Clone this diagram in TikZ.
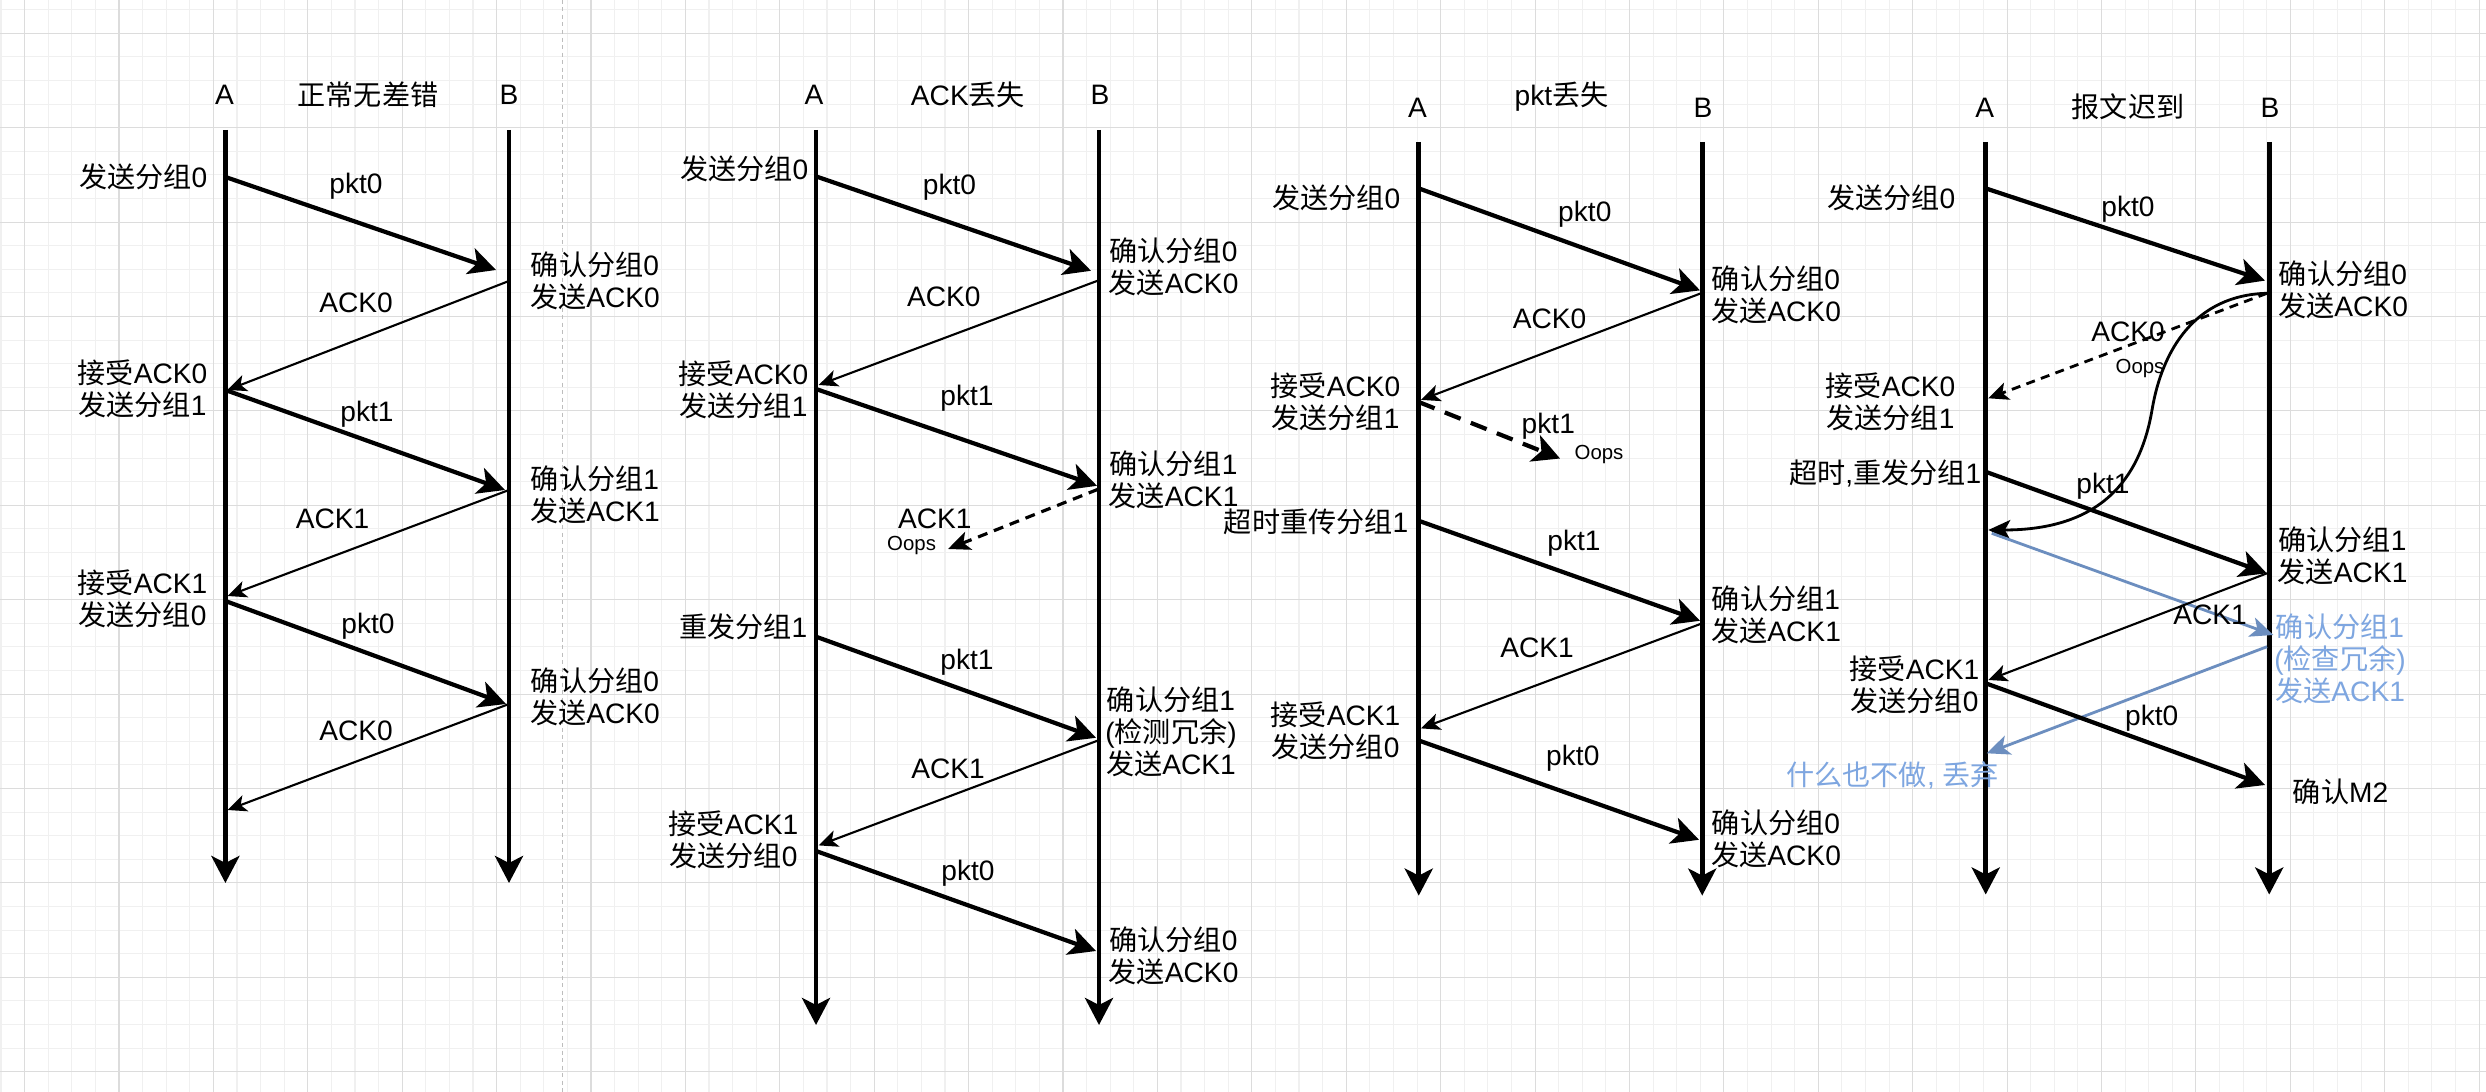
\documentclass[tikz,border=0pt]{standalone}
\usepackage{fontspec}
\setmainfont{Liberation Sans}
\newfontfamily\cjk{Noto Sans CJK SC}
\newcommand\zh[1]{{\cjk #1}}
\usetikzlibrary{arrows.meta}
\definecolor{gridminor}{HTML}{F0F0F0}
\definecolor{gridmajor}{HTML}{DCDCDC}
\definecolor{pagebreak}{HTML}{BDBDBD}
\definecolor{blueline}{HTML}{6C8EBF}
\definecolor{bluetext}{HTML}{7EA6E0}
\begin{document}
\begin{tikzpicture}[x=0.01cm,y=-0.01cm,
  axisline/.style={line width=1.3pt,-{Stealth[length=0.27cm,width=0.28cm,inset=0.07cm]}},
  pktline/.style={line width=1.2pt,-{Stealth[length=0.27cm,width=0.27cm,inset=0.07cm]}},
  ackline/.style={line width=0.6pt,-{Stealth[length=0.19cm,width=0.17cm,inset=0.05cm]}},
  lostpkt/.style={line width=1.2pt,dash pattern=on 0.17cm off 0.11cm,-{Stealth[length=0.27cm,width=0.28cm,inset=0.07cm]}},
  lostack/.style={line width=0.9pt,dash pattern=on 0.1cm off 0.07cm,-{Stealth[length=0.22cm,width=0.19cm,inset=0.055cm]}},
  lateack/.style={line width=0.8pt,dash pattern=on 0.09cm off 0.065cm,-{Stealth[length=0.2cm,width=0.18cm,inset=0.05cm]}},
  curveline/.style={line width=0.8pt,-{Stealth[length=0.22cm,width=0.2cm,inset=0.055cm]}},
  blueedge/.style={draw=blueline,line width=0.8pt,-{Stealth[length=0.23cm,width=0.2cm,inset=0.06cm]}},
  txt/.style={inner sep=0pt,font=\fontsize{8}{9.1}\selectfont,align=center},
  small/.style={inner sep=0pt,font=\fontsize{5.8}{7}\selectfont},
  bluetxt/.style={txt,text=bluetext},
  minorln/.style={draw=gridminor,line width=0.3pt},
  majorln/.style={draw=gridmajor,line width=0.3pt},
]
\fill[white] (0,0) rectangle (2486,1092);
\useasboundingbox (0,0) rectangle (2486,1092);
% grid
\foreach \i in {0,...,105} \draw[minorln] ({1+23.6*\i},0) -- ({1+23.6*\i},1092);
\foreach \i in {0,...,45} \draw[minorln] (0,{9.7+23.6*\i}) -- (2486,{9.7+23.6*\i});
\foreach \i in {0,...,26} \draw[majorln] ({24.6+94.4*\i},0) -- ({24.6+94.4*\i},1092);
\foreach \i in {0,...,11} \draw[majorln] (0,{33.3+94.4*\i}) -- (2486,{33.3+94.4*\i});
% page break
\coordinate (pbt) at (562.3,0); \coordinate (pbb) at (562.3,1092);
\draw[pagebreak,line width=0.4pt,dash pattern=on 0.04cm off 0.035cm] (pbt) -- (pbb);

%%%%%%%%%%%%%%%% Diagram 1
\node[txt] (d1A) at (224.6,94.7) {A};
\node[txt] (d1T) at (368,94.7) {\zh{正常无差错}};
\node[txt] (d1B) at (509,94.7) {B};
\coordinate (d1At) at (225.4,130); \coordinate (d1Ab) at (225.4,883);
\coordinate (d1Bt) at (509,130); \coordinate (d1Bb) at (509,883);
\draw[axisline] (d1At) -- (d1Ab);
\draw[axisline] (d1Bt) -- (d1Bb);
\coordinate (d1a1) at (225.4,177); \coordinate (d1b1) at (496,270);
\coordinate (d1b2) at (509,281);   \coordinate (d1a2) at (227.5,390);
\coordinate (d1a3) at (225.4,390); \coordinate (d1b3) at (505,490);
\coordinate (d1b4) at (509,490);   \coordinate (d1a4) at (227.5,596);
\coordinate (d1a5) at (225.4,601); \coordinate (d1b5) at (506,704);
\coordinate (d1b6) at (509,704);   \coordinate (d1a6) at (227.5,810);
\draw[pktline] (d1a1) -- (d1b1);
\draw[ackline] (d1b2) -- (d1a2);
\draw[pktline] (d1a3) -- (d1b3);
\draw[ackline] (d1b4) -- (d1a4);
\draw[pktline] (d1a5) -- (d1b5);
\draw[ackline] (d1b6) -- (d1a6);
\node[txt] (d1l1) at (356,186) {pkt0};
\node[txt] (d1l2) at (356,303) {ACK0};
\node[txt] (d1l3) at (367,414) {pkt1};
\node[txt] (d1l4) at (332.6,519) {ACK1};
\node[txt] (d1l5) at (368,626.5) {pkt0};
\node[txt] (d1l6) at (356,731) {ACK0};
\node[txt,anchor=east] (d1s1) at (208,177) {\zh{发送分组}0};
\node[txt,anchor=east] (d1s2) at (208,389) {\zh{接受}ACK0\\\zh{发送分组}1};
\node[txt,anchor=east] (d1s3) at (208,599) {\zh{接受}ACK1\\\zh{发送分组}0};
\node[txt] (d1r1) at (595,281) {\zh{确认分组}0\\\zh{发送}ACK0};
\node[txt] (d1r2) at (595,495) {\zh{确认分组}1\\\zh{发送}ACK1};
\node[txt] (d1r3) at (595,697) {\zh{确认分组}0\\\zh{发送}ACK0};

%%%%%%%%%%%%%%%% Diagram 2
\node[txt] (d2A) at (814,94.7) {A};
\node[txt] (d2T) at (968,94.7) {ACK\zh{丢失}};
\node[txt] (d2B) at (1100,94.7) {B};
\coordinate (d2At) at (816,130); \coordinate (d2Ab) at (816,1025);
\coordinate (d2Bt) at (1099,130); \coordinate (d2Bb) at (1099,1025);
\draw[axisline] (d2At) -- (d2Ab);
\draw[axisline] (d2Bt) -- (d2Bb);
\coordinate (d2a1) at (816,176.4);  \coordinate (d2b1) at (1091,270.8);
\coordinate (d2b2) at (1098,280.6); \coordinate (d2a2) at (818.7,385);
\coordinate (d2a3) at (816,389);    \coordinate (d2b3) at (1097,485.8);
\coordinate (d2b4) at (1098,489.3); \coordinate (d2x4) at (948,549);
\coordinate (d2a5) at (816,636.7);  \coordinate (d2b5) at (1096,737.8);
\coordinate (d2b6) at (1098,740.5); \coordinate (d2a6) at (818.7,845.4);
\coordinate (d2a7) at (816,851);    \coordinate (d2b7) at (1096,951);
\draw[pktline] (d2a1) -- (d2b1);
\draw[ackline] (d2b2) -- (d2a2);
\draw[pktline] (d2a3) -- (d2b3);
\draw[lostack] (d2b4) -- (d2x4);
\draw[pktline] (d2a5) -- (d2b5);
\draw[ackline] (d2b6) -- (d2a6);
\draw[pktline] (d2a7) -- (d2b7);
\node[txt] (d2l1) at (949.5,187.6) {pkt0};
\node[txt] (d2l2) at (943.8,296.4) {ACK0};
\node[txt] (d2l3) at (967,398) {pkt1};
\node[txt] (d2l4) at (934.8,518.9) {ACK1};
\node[small] (d2o4) at (911.6,545.3) {Oops};
\node[txt] (d2l5) at (967,662) {pkt1};
\node[txt] (d2l6) at (948,768.8) {ACK1};
\node[txt] (d2l7) at (968,873.7) {pkt0};
\node[txt,anchor=east] (d2s1) at (809,168.4) {\zh{发送分组}0};
\node[txt,anchor=east] (d2s2) at (809,390) {\zh{接受}ACK0\\\zh{发送分组}1};
\node[txt,anchor=east] (d2s3) at (808,626.5) {\zh{重发分组}1};
\node[txt,anchor=east] (d2s4) at (799,839.8) {\zh{接受}ACK1\\\zh{发送分组}0};
\node[txt] (d2r1) at (1173.5,267) {\zh{确认分组}0\\\zh{发送}ACK0};
\node[txt] (d2r2) at (1173.5,480) {\zh{确认分组}1\\\zh{发送}ACK1};
\node[txt] (d2r3) at (1171,732) {\zh{确认分组}1\\(\zh{检测冗余})\\\zh{发送}ACK1};
\node[txt] (d2r4) at (1173.5,956) {\zh{确认分组}0\\\zh{发送}ACK0};

%%%%%%%%%%%%%%%% Diagram 3
\node[txt] (d3A) at (1417.4,108) {A};
\node[txt] (d3T) at (1561.6,96.5) {pkt\zh{丢失}};
\node[txt] (d3B) at (1703,108) {B};
\coordinate (d3At) at (1418.75,142); \coordinate (d3Ab) at (1418.75,895.6);
\coordinate (d3Bt) at (1702.2,142); \coordinate (d3Bb) at (1702.2,895.6);
\draw[axisline] (d3At) -- (d3Ab);
\draw[axisline] (d3Bt) -- (d3Bb);
\coordinate (d3a1) at (1418.75,188.4); \coordinate (d3b1) at (1700,290.4);
\coordinate (d3b2) at (1702,292.9);    \coordinate (d3a2) at (1421,399.9);
\coordinate (d3a3) at (1418.75,402);   \coordinate (d3x3) at (1560,458.5);
\coordinate (d3a4) at (1418.75,520.8); \coordinate (d3b4) at (1700,620.8);
\coordinate (d3b5) at (1702,623.4);    \coordinate (d3a5) at (1421,728.4);
\coordinate (d3a6) at (1418.75,740.5); \coordinate (d3b6) at (1699,839.8);
\draw[pktline] (d3a1) -- (d3b1);
\draw[ackline] (d3b2) -- (d3a2);
\draw[lostpkt] (d3a3) -- (d3x3);
\draw[pktline] (d3a4) -- (d3b4);
\draw[ackline] (d3b5) -- (d3a5);
\draw[pktline] (d3a6) -- (d3b6);
\node[txt] (d3l1) at (1584.8,214) {pkt0};
\node[txt] (d3l2) at (1549.6,318.5) {ACK0};
\node[txt] (d3l3) at (1548.3,426.7) {pkt1};
\node[small] (d3o3) at (1599,455) {Oops};
\node[txt] (d3l4) at (1574,543.4) {pkt1};
\node[txt] (d3l5) at (1537,648) {ACK1};
\node[txt] (d3l6) at (1572.8,757.8) {pkt0};
\node[txt,anchor=east] (d3s1) at (1401,198.2) {\zh{发送分组}0};
\node[txt,anchor=east] (d3s2) at (1401,401.6) {\zh{接受}ACK0\\\zh{发送分组}1};
\node[txt,anchor=east] (d3s3) at (1409,521.6) {\zh{超时重传分组}1};
\node[txt,anchor=east] (d3s4) at (1401,730.3) {\zh{接受}ACK1\\\zh{发送分组}0};
\node[txt] (d3r1) at (1776,295) {\zh{确认分组}0\\\zh{发送}ACK0};
\node[txt] (d3r2) at (1776,614.7) {\zh{确认分组}1\\\zh{发送}ACK1};
\node[txt] (d3r3) at (1776,839) {\zh{确认分组}0\\\zh{发送}ACK0};

%%%%%%%%%%%%%%%% Diagram 4
\node[txt] (d4A) at (1984.7,108) {A};
\node[txt] (d4T) at (2128,107) {\zh{报文迟到}};
\node[txt] (d4B) at (2270,108) {B};
\coordinate (d4At) at (1985.7,142); \coordinate (d4Ab) at (1985.7,894.5);
\coordinate (d4Bt) at (2269.2,142); \coordinate (d4Bb) at (2269.2,894.5);
\draw[axisline] (d4At) -- (d4Ab);
\draw[axisline] (d4Bt) -- (d4Bb);
\coordinate (d4a1) at (1985.7,188.4); \coordinate (d4b1) at (2265,280.6);
\coordinate (d4b2) at (2267,293.3);   \coordinate (d4a2) at (1988.3,398.3);
\coordinate (d4m) at (2152,410);      \coordinate (d4ac) at (1988.3,530);
\coordinate (d4a3) at (1985.7,471.8); \coordinate (d4b3) at (2266.7,573.3);
\coordinate (d4a4) at (1991.7,533.3); \coordinate (d4b4) at (2273.3,635);
\coordinate (d4b5) at (2267,573.3);   \coordinate (d4a5) at (1988.3,680);
\coordinate (d4b6) at (2267,646.7);   \coordinate (d4a6) at (1986.7,753.3);
\coordinate (d4a7) at (1985.7,683.3); \coordinate (d4b7) at (2265,785);
\draw[pktline] (d4a1) -- (d4b1);
\draw[lateack] (d4b2) -- (d4a2);
\draw[curveline] (d4b2) .. controls (2195,295) and (2162,350) .. (d4m)
   .. controls (2140,480) and (2100,530) .. (d4ac);
\draw[pktline] (d4a3) -- (d4b3);
\draw[blueedge] (d4a4) -- (d4b4);
\draw[ackline] (d4b5) -- (d4a5);
\draw[blueedge] (d4b6) -- (d4a6);
\draw[pktline] (d4a7) -- (d4b7);
\node[txt] (d4l1) at (2128,209.4) {pkt0};
\node[txt] (d4l2) at (2128,331.7) {ACK0};
\node[small] (d4o2) at (2140,369) {Oops};
\node[txt] (d4l3) at (2103,486.5) {pkt1};
\node[txt] (d4l5) at (2210,615) {ACK1};
\node[txt] (d4l7) at (2151.7,718.3) {pkt0};
\node[txt,anchor=east] (d4s1) at (1956,198.2) {\zh{发送分组}0};
\node[txt,anchor=east] (d4s2) at (1956,401.6) {\zh{接受}ACK0\\\zh{发送分组}1};
\node[txt,anchor=east] (d4s3) at (1982,473.5) {\zh{超时},\zh{重发分组}1};
\node[txt,anchor=east] (d4s4) at (1980,685) {\zh{接受}ACK1\\\zh{发送分组}0};
\node[bluetxt] (d4s5) at (1892.7,775.6) {\zh{什么也不做}, \zh{丢弃}};
\node[txt] (d4r1) at (2343,290.3) {\zh{确认分组}0\\\zh{发送}ACK0};
\node[txt] (d4r2) at (2342.5,555.8) {\zh{确认分组}1\\\zh{发送}ACK1};
\node[bluetxt] (d4r3) at (2340,659) {\zh{确认分组}1\\(\zh{检查冗余})\\\zh{发送}ACK1};
\node[txt] (d4r4) at (2340.5,791.5) {\zh{确认}M2};
\end{tikzpicture}
\end{document}
